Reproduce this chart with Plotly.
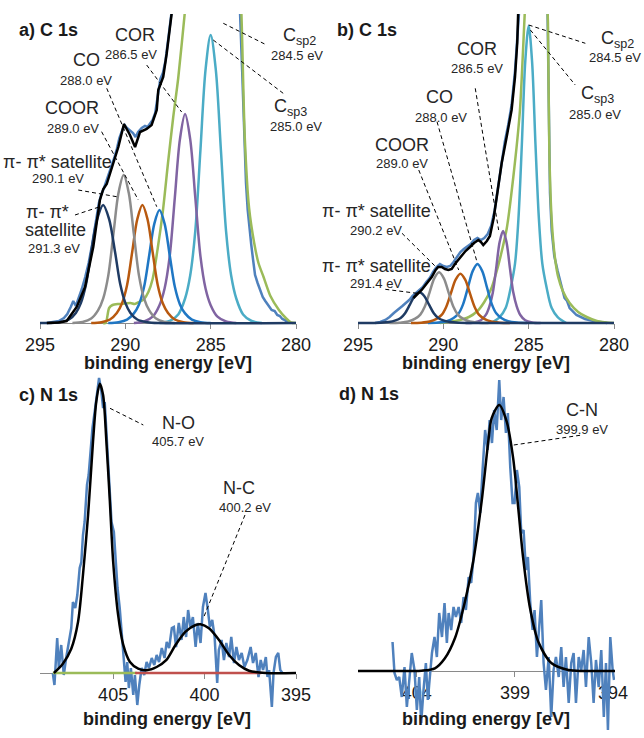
import plotly.graph_objects as go

W, H = 644, 738
FONT = "Liberation Sans, Arial, sans-serif"

# ---------------- Panel a : C 1s ----------------
a_ticks = [295, 290, 285, 280]
a_raw = [(294.6, 0), (294.2, 1), (293.9, 2), (293.6, 5), (293.4, 9), (293.2, 16), (293.05, 22), (292.9, 17),
         (292.75, 24), (292.55, 34), (292.35, 46), (292.15, 60), (291.95, 78), (291.75, 98), (291.55, 120),
         (291.4, 129), (291.25, 135), (291.05, 145), (290.85, 154), (290.65, 165), (290.5, 174), (290.35, 185),
         (290.2, 192), (290.05, 198), (289.9, 195), (289.73, 193), (289.55, 190), (289.4, 186), (289.25, 191),
         (289.04, 195), (288.85, 197), (288.7, 196), (288.55, 199), (288.4, 203), (288.25, 210), (288.1, 226),
         (287.95, 244), (287.8, 250), (287.65, 262), (287.5, 282), (287.35, 305), (287.2, 330), (287.0, 360),
         (286.5, 420), (285.5, 480), (284.5, 470), (283.6, 380), (283.3, 320), (283.15, 250), (283.03, 180),
         (282.93, 140), (282.83, 113), (282.73, 92), (282.62, 78), (282.52, 64), (282.4, 48), (282.25, 40),
         (282.1, 33), (281.95, 26), (281.8, 22), (281.6, 17), (281.43, 13), (281.25, 12), (281.1, 8),
         (280.95, 7), (280.8, 4), (280.65, 3), (280.55, 1), (280.45, 2), (280.35, 0)]
a_fit = [(294.6, 0), (293.9, 0.5), (293.44, 2), (292.85, 16), (292.36, 36), (291.88, 76), (291.49, 123),
         (291.29, 134), (291.09, 139), (290.70, 159), (290.41, 176), (290.08, 199), (289.73, 188), (289.43, 176),
         (289.14, 191), (288.75, 194), (288.46, 198), (288.16, 213), (288.07, 233), (287.78, 246), (287.58, 269),
         (287.29, 309), (287.0, 360)]
a_green = [(291.3, 0), (291.15, 0), (290.95, 15), (290.75, 18), (290.4, 19), (290.0, 19.5), (289.7, 20),
           (289.45, 19), (289.2, 21), (288.9, 24), (288.65, 31), (288.4, 44), (288.1, 75), (287.8, 112),
           (287.5, 160), (287.2, 205), (286.9, 245), (286.5, 313), (286.0, 400), (285.2, 520), (284.5, 560),
           (283.9, 520), (283.5, 430), (283.2, 310), (283.0, 185), (282.75, 115), (282.45, 80), (282.2, 60),
           (281.9, 46), (281.5, 27), (281.0, 13), (280.6, 5), (280.3, 0.5), (280.0, 0)]
a_cyan_x = [288.0, 287.4, 286.9, 286.5, 286.2, 285.9, 285.6, 285.3, 285.0, 284.7, 284.4, 284.1, 283.8, 283.5, 283.1, 282.6, 282.0]
a_cyan_y = [0, 2.0, 8.6, 24.5, 47.5, 92.2, 172.8, 253.4, 288, 253.4, 172.8, 92.2, 47.5, 24.5, 8.6, 2.0, 0]
a_purple_x = [289.5, 288.9, 288.4, 288.0, 287.7, 287.4, 287.1, 286.8, 286.5, 286.2, 285.9, 285.6, 285.3, 285.0, 284.6, 284.1, 283.5]
a_purple_y = [0, 1.5, 6.3, 17.8, 34.5, 66.9, 125.4, 183.9, 209, 183.9, 125.4, 66.9, 34.5, 17.8, 6.3, 1.5, 0]
a_blue_x = [291.0, 290.4, 289.9, 289.5, 289.2, 288.9, 288.6, 288.3, 288.0, 287.7, 287.4, 287.1, 286.8, 286.5, 286.1, 285.6, 285.0]
a_blue_y = [0, 0.8, 3.4, 9.6, 18.6, 36.2, 67.8, 99.4, 113, 99.4, 67.8, 36.2, 18.6, 9.6, 3.4, 0.8, 0]
a_orange_x = [292.0, 291.4, 290.9, 290.5, 290.2, 289.9, 289.6, 289.3, 289.0, 288.7, 288.4, 288.1, 287.8, 287.5, 287.1, 286.6, 286.0]
a_orange_y = [0, 0.8, 3.5, 10.0, 19.5, 37.8, 70.8, 103.8, 118, 103.8, 70.8, 37.8, 19.5, 10.0, 3.5, 0.8, 0]
a_gray_x = [293.1, 292.5, 292.0, 291.6, 291.3, 291.0, 290.7, 290.4, 290.1, 289.8, 289.5, 289.2, 288.9, 288.6, 288.2, 287.7, 287.1]
a_gray_y = [0, 1.0, 4.4, 12.6, 24.4, 47.4, 88.8, 130.2, 148, 130.2, 88.8, 47.4, 24.4, 12.6, 4.4, 1.0, 0]
a_navy_x = [295.0, 294.6, 293.9, 293.3, 292.9, 292.6, 292.3, 292.0, 291.65, 291.3, 290.95, 290.6, 290.3, 290.0, 289.7, 289.3, 288.7, 288.0, 280.0]
a_navy_y = [0, 0, 0.8, 3.5, 10.0, 20.1, 38.9, 70.8, 103.8, 118, 103.8, 70.8, 38.9, 20.1, 10.0, 3.5, 0.8, 0, 0]

# ---------------- Panel b : C 1s ----------------
b_ticks = [295, 290, 285, 280]
b_raw = [(294.0, 0), (293.7, 1), (293.4, 3), (293.15, 6), (292.9, 10), (292.65, 14), (292.4, 17), (292.2, 20),
         (292.0, 23), (291.8, 27), (291.6, 30), (291.4, 33), (291.2, 36), (291.0, 41), (290.8, 45), (290.6, 51),
         (290.4, 56), (290.2, 59), (290.0, 57), (289.8, 56), (289.6, 57), (289.4, 61), (289.2, 66), (289.0, 71),
         (288.8, 74), (288.6, 77), (288.4, 79), (288.2, 83), (288.0, 85), (287.8, 83), (287.6, 85), (287.4, 89),
         (287.2, 97), (287.0, 112), (286.8, 136), (286.6, 161), (286.4, 181), (286.2, 198), (286.0, 218),
         (285.8, 252), (285.65, 292), (285.55, 322), (285.0, 450), (284.5, 500), (284.1, 420), (283.9, 320),
         (283.82, 200), (283.75, 130), (283.65, 92), (283.5, 67), (283.3, 52), (283.1, 38), (282.9, 25),
         (282.75, 22), (282.6, 15), (282.2, 8), (281.7, 4), (281.2, 2), (280.7, 1), (280.4, 0)]
b_fit = [(291.75, 25), (291.5, 29), (291.27, 33), (291.0, 39), (290.68, 46), (290.45, 53), (290.3, 56),
         (290.1, 56), (289.9, 54), (289.7, 53), (289.51, 54), (289.32, 59), (289.1, 64), (288.93, 68),
         (288.7, 72), (288.44, 76), (288.2, 80), (287.95, 83), (287.8, 81), (287.66, 78), (287.45, 82),
         (287.27, 87), (287.05, 105), (286.87, 126), (286.58, 160), (286.29, 186), (286.0, 213), (285.8, 246),
         (285.67, 280), (285.61, 313), (285.5, 360)]
b_green = [(290.2, 0), (289.3, 2), (288.5, 6), (288.0, 12), (287.6, 21), (287.2, 34), (286.87, 52), (286.6, 70),
           (286.29, 94), (285.9, 146), (285.51, 213), (285.22, 313), (284.9, 420), (284.5, 480), (284.15, 420),
           (283.95, 340), (283.87, 300), (283.83, 230), (283.78, 163), (283.7, 120), (283.6, 90), (283.45, 64),
           (283.27, 46), (283.0, 32), (282.6, 20), (282.1, 11), (281.6, 6), (281.0, 2), (280.45, 0.5), (280.0, 0)]
b_cyan_x = [287.2, 286.7, 286.35, 286.05, 285.8, 285.6, 285.4, 285.2, 285.0, 284.8, 284.6, 284.4, 284.2, 283.95, 283.65, 283.3, 282.8]
b_cyan_y = [0, 5.9, 14.9, 35.6, 59.4, 104.0, 178.2, 261.4, 297, 261.4, 178.2, 104.0, 59.4, 35.6, 14.9, 5.9, 0]
b_purple_x = [288.7, 288.2, 287.8, 287.5, 287.3, 287.1, 286.9, 286.7, 286.5, 286.3, 286.1, 285.9, 285.7, 285.5, 285.2, 284.8, 284.3]
b_purple_y = [0, 0.6, 2.8, 8.3, 16.6, 30.4, 55.2, 81.0, 92, 81.0, 55.2, 30.4, 16.6, 8.3, 2.8, 0.6, 0]
b_blue_x = [290.9, 290.3, 289.8, 289.4, 289.1, 288.84, 288.56, 288.28, 288.0, 287.72, 287.44, 287.16, 286.9, 286.6, 286.2, 285.7, 285.1]
b_blue_y = [0, 0.4, 1.8, 5.0, 9.7, 18.9, 35.4, 51.9, 59, 51.9, 35.4, 18.9, 9.7, 5.0, 1.8, 0.4, 0]
b_orange_x = [291.9, 291.3, 290.8, 290.4, 290.1, 289.84, 289.56, 289.28, 289.0, 288.72, 288.44, 288.16, 287.9, 287.6, 287.2, 286.7, 286.1]
b_orange_y = [0, 0.35, 1.5, 4.2, 8.1, 15.8, 29.6, 43.4, 49.3, 43.4, 29.6, 15.8, 8.1, 4.2, 1.5, 0.35, 0]
b_gray_x = [293.15, 292.55, 292.05, 291.65, 291.35, 291.09, 290.81, 290.53, 290.25, 289.97, 289.69, 289.41, 289.15, 288.85, 288.45, 287.95, 287.35]
b_gray_y = [0, 0.35, 1.5, 4.3, 8.4, 16.2, 30.4, 44.6, 50.7, 44.6, 30.4, 16.2, 8.4, 4.3, 1.5, 0.35, 0]
b_navy_x = [295.0, 294.3, 293.7, 293.2, 292.8, 292.5, 292.24, 291.96, 291.68, 291.4, 291.12, 290.84, 290.56, 290.3, 290.0, 289.6, 289.1, 288.5, 280.0]
b_navy_y = [0, 0, 0.2, 0.9, 2.6, 5.1, 9.8, 18.4, 27.0, 30.7, 27.0, 18.4, 9.8, 5.1, 2.6, 0.9, 0.2, 0, 0]

# ---------------- Panel c : N 1s ----------------
c_ticks = [405, 400, 395]
c_raw = [(408.3, 0), (408.21, -12), (408.06, 35), (407.97, 5), (407.84, 28), (407.70, -2), (407.57, 15),
         (407.44, 31), (407.29, 45), (407.20, 71), (407.07, 65), (406.96, 78), (406.83, 105), (406.74, 111),
         (406.65, 138), (406.56, 151), (406.43, 188), (406.34, 198), (406.23, 225), (406.13, 245), (406.01, 261),
         (405.88, 278), (405.77, 295), (405.64, 281), (405.55, 265), (405.46, 271), (405.37, 241), (405.27, 211),
         (405.18, 188), (405.09, 151), (404.96, 141), (404.85, 111), (404.76, 85), (404.64, 65), (404.51, 31),
         (404.40, 11), (404.32, -9), (404.23, 11), (404.14, -15), (404.03, 5), (403.90, -22), (403.81, -2),
         (403.68, -32), (403.57, -12), (403.44, 5), (403.30, -2), (403.17, 11), (403.04, 5), (402.89, 15),
         (402.75, 8), (402.62, 18), (402.49, 11), (402.34, 25), (402.19, 15), (402.07, 31), (401.94, 25),
         (401.79, 45), (401.68, 46), (401.56, 26), (401.41, 50), (401.26, 33), (401.14, 56), (401.01, 36),
         (400.90, 63), (400.77, 46), (400.64, 56), (400.49, 26), (400.37, 50), (400.22, 30), (400.09, 66),
         (399.95, 80), (399.82, 63), (399.71, 46), (399.58, 53), (399.45, 36), (399.31, -10), (399.22, 23),
         (399.07, 33), (398.94, 13), (398.81, 30), (398.66, 16), (398.54, 36), (398.39, 10), (398.26, 26),
         (398.12, 13), (397.97, 20), (397.82, 6), (397.66, 13), (397.48, 26), (397.35, 10), (397.20, 20),
         (397.05, -4), (396.93, 13), (396.80, 3), (396.65, 16), (396.56, -4), (396.47, 3), (396.32, -34),
         (396.23, 0), (396.10, 16), (395.97, 20), (395.86, 3), (395.74, 0)]
c_fit = [(408.24, 0), (407.75, 9.3), (407.29, 24.3), (406.92, 51), (406.65, 98), (406.37, 158), (406.10, 231.7),
         (405.92, 271.7), (405.73, 289.3), (405.55, 278), (405.37, 231.7), (405.18, 171.7), (405.0, 111.7),
         (404.73, 58.3), (404.45, 28.3), (404.08, 11), (403.63, 4.3), (403.17, 2.7), (402.62, 6), (402.1, 12.8),
         (401.59, 28), (401.04, 41.3), (400.49, 48), (400.22, 48.7), (399.76, 44.7), (399.21, 33), (398.66, 18),
         (398.12, 8), (397.57, 2.3), (396.65, 0), (395.0, 0)]
c_bg_green = [(408.3, 0), (403.7, 0)]
c_bg_red = [(403.8, 0), (396.9, 0)]

# ---------------- Panel d : N 1s ----------------
d_ticks = [404, 399, 394]
d_raw = [(405.24, 29), (405.14, -2), (405.02, -9), (404.90, -6), (404.77, -26), (404.63, 4), (404.51, -36),
         (404.39, -9), (404.26, 18), (404.12, 1), (404.0, -39), (403.88, -6), (403.78, -52), (403.66, -19),
         (403.54, 8), (403.44, -29), (403.32, 1), (403.23, 18), (403.10, 34), (402.98, 14), (402.86, 58),
         (402.72, 34), (402.59, 68), (402.47, 28), (402.38, 58), (402.25, 41), (402.13, 64), (402.01, 54),
         (401.87, 64), (401.74, 48), (401.62, 74), (401.50, 61), (401.36, 94), (401.23, 88), (401.11, 114),
         (400.99, 168), (400.89, 178), (400.77, 158), (400.65, 201), (400.52, 241), (400.39, 221), (400.29, 251),
         (400.17, 228), (400.06, 261), (399.93, 241), (399.80, 291), (399.70, 251), (399.58, 274), (399.46, 238),
         (399.36, 258), (399.24, 204), (399.12, 168), (399.02, 168), (398.90, 201), (398.78, 184), (398.68, 138),
         (398.56, 141), (398.44, 101), (398.34, 114), (398.22, 68), (398.10, 41), (398.0, 61), (397.88, 14),
         (397.76, 41), (397.66, 71), (397.54, 8), (397.42, -19), (397.28, 14), (397.15, -46), (397.03, 1),
         (396.91, 14), (396.77, -6), (396.64, 24), (396.52, -16), (396.40, 14), (396.26, -32), (396.13, 8),
         (396.01, 18), (395.89, -32), (395.75, 14), (395.62, 1), (395.50, 21), (395.38, -16), (395.24, 34),
         (395.11, 8), (394.99, -32), (394.87, 11), (394.73, -16), (394.60, 21), (394.47, -46), (394.36, 8),
         (394.26, -59), (394.14, 34), (394.02, 1), (393.95, -9)]
d_fit = [(407.0, 0), (404.3, 0), (403.76, 0.3), (403.08, 2.7), (402.57, 12.7), (402.06, 32.7), (401.55, 69.3),
         (401.13, 109.3), (400.70, 169.3), (400.36, 229.3), (400.19, 252.7), (399.80, 266), (399.42, 249.3),
         (399.09, 212.7), (398.83, 162.7), (398.58, 112.7), (398.23, 62.7), (397.81, 29.3), (397.13, 7.7),
         (396.28, 1), (395.5, 0), (393.9, 0)]

# ---------------- styling ----------------
C_RAW, C_FIT = "#4F81BD", "#000000"
C_NAVY, C_GRAY, C_ORANGE, C_BLUE = "#1F3B63", "#8C8C8C", "#B8590F", "#1F77C4"
C_PURPLE, C_CYAN, C_GREEN, C_RED = "#8064A2", "#4BACC6", "#9BBB59", "#C0504D"
TXT = "#262626"

fig = go.Figure()


def unzip(pairs):
    return [p[0] for p in pairs], [p[1] for p in pairs]


def add(x, y, color, ax, shape="spline", width=2.5, smoothing=0.9):
    line = dict(color=color, width=width, shape=shape)
    if shape == "spline":
        line["smoothing"] = smoothing
    fig.add_trace(go.Scatter(x=x, y=y, mode="lines", line=line, xaxis="x" + ax, yaxis="y" + ax,
                             hoverinfo="skip", showlegend=False))


# panel a
add(*unzip(a_raw), C_RAW, "", shape="linear")
add(*unzip(a_green), C_GREEN, "", smoothing=0.7)
add(a_cyan_x, a_cyan_y, C_CYAN, "")
add(a_purple_x, a_purple_y, C_PURPLE, "")
add(a_blue_x, a_blue_y, C_BLUE, "")
add(a_orange_x, a_orange_y, C_ORANGE, "")
add(a_gray_x, a_gray_y, C_GRAY, "")
add(a_navy_x, a_navy_y, C_NAVY, "")
add(*unzip(a_fit), C_FIT, "", shape="linear")

# panel b
add(*unzip(b_raw), C_RAW, "2", shape="linear")
add(*unzip(b_green), C_GREEN, "2", smoothing=0.6)
add(b_cyan_x, b_cyan_y, C_CYAN, "2")
add(b_purple_x, b_purple_y, C_PURPLE, "2")
add(b_blue_x, b_blue_y, C_BLUE, "2")
add(b_orange_x, b_orange_y, C_ORANGE, "2")
add(b_gray_x, b_gray_y, C_GRAY, "2")
add(b_navy_x, b_navy_y, C_NAVY, "2")
add(*unzip(b_fit), C_FIT, "2", shape="linear")

# panel c
add(*unzip(c_raw), C_RAW, "3", shape="linear")
add(*unzip(c_bg_green), C_GREEN, "3", shape="linear")
add(*unzip(c_bg_red), C_RED, "3", shape="linear")
add(*unzip(c_fit), C_FIT, "3", smoothing=0.8)

# panel d
add(*unzip(d_raw), C_RAW, "4", shape="linear")
add(*unzip(d_fit), C_FIT, "4", smoothing=0.8)


def xax(px0, px1, rng, base_py, ticks):
    return dict(domain=[px0 / W, px1 / W], range=rng, autorange=False, anchor="free",
                position=1 - base_py / H, automargin=False,
                tickmode="array", tickvals=ticks, ticktext=[str(t) for t in ticks],
                showline=True, linecolor="#8a8a8a", linewidth=1, ticks="outside", ticklen=5,
                tickcolor="#8a8a8a", tickwidth=1, showgrid=False, zeroline=False, layer="below traces",
                tickfont=dict(family=FONT, size=18, color="#1a1a1a"), fixedrange=True)


def yax(top_py, bot_py, rng, anchor):
    return dict(domain=[1 - bot_py / H, 1 - top_py / H], range=rng, autorange=False, visible=False,
                anchor=anchor, automargin=False, fixedrange=True, showgrid=False, zeroline=False)


fig.update_layout(
    template="none",
    width=W, height=H, margin=dict(l=0, r=0, t=0, b=0, pad=0, autoexpand=False),
    paper_bgcolor="white", plot_bgcolor="rgba(0,0,0,0)", showlegend=False,
    xaxis=xax(40, 296, [295, 280], 323, a_ticks), yaxis=yax(14, 325, [-2, 309], "x"),
    xaxis2=xax(358, 614, [295, 280], 323, b_ticks), yaxis2=yax(14, 325, [-2, 309], "x2"),
    xaxis3=xax(40, 296, [409, 395], 673, c_ticks), yaxis3=yax(375, 713, [-40, 298], "x3"),
    xaxis4=xax(358, 615, [407, 393.9], 671, d_ticks), yaxis4=yax(375, 738, [-67, 296], "x4"),
)

ann = []


def txt(text, x, y, ax, size=18, xanchor="center"):
    ann.append(dict(text=text, x=x, y=y, xref="x" + ax, yref="y" + ax, showarrow=False,
                    xanchor=xanchor, yanchor="middle", font=dict(family=FONT, size=size, color=TXT)))


def ptxt(text, px, py, size=18, xanchor="center", color="#1a1a1a"):
    ann.append(dict(text=text, x=px / W, y=1 - py / H, xref="paper", yref="paper", showarrow=False,
                    xanchor=xanchor, yanchor="middle", font=dict(family=FONT, size=size, color=color)))


# panel a labels
txt("COR", 289.43, 288, "")
txt("286.5 eV", 289.67, 268, "", 13)
txt("CO", 292.30, 263, "")
txt("288.0 eV", 292.28, 243, "", 13)
txt("COOR", 293.10, 215, "")
txt("289.0 eV", 293.07, 195, "", 13)
txt("π- π* satellite", 293.97, 161, "")
txt("290.1 eV", 293.95, 145, "", 13)
txt("π- π*", 294.59, 111, "")
txt("satellite", 294.12, 93, "")
txt("291.3 eV", 294.18, 75, "", 13)
txt("C<sub>sp2</sub>", 280.88, 286, "", 18, "left")
ptxt("284.5 eV", 297, 56, 13, color=TXT)
txt("C<sub>sp3</sub>", 281.41, 216, "", 18, "left")
ptxt("285.0 eV", 296, 126, 13, color=TXT)

# panel b labels
txt("COR", 288.03, 274, "2")
txt("286.5 eV", 288.03, 255, "2", 13)
txt("CO", 290.20, 226, "2")
txt("288.0 eV", 290.14, 206, "2", 13)
txt("COOR", 292.42, 178, "2")
txt("289.0 eV", 292.42, 160, "2", 13)
txt("π- π* satellite", 293.89, 112, "2")
txt("290.2 eV", 293.95, 93, "2", 13)
txt("π- π* satellite", 293.89, 57, "2")
txt("291.4 eV", 293.95, 40, "2", 13)
txt("C<sub>sp2</sub>", 280.88, 283, "2", 18, "left")
ptxt("284.5 eV", 615, 57, 13, color=TXT)
txt("C<sub>sp3</sub>", 282.05, 229, "2", 18, "left")
txt("285.0 eV", 281.11, 209, "2", 13)

# panel c labels
txt("N-O", 401.45, 250, "3")
txt("405.7 eV", 401.43, 232, "3", 13)
txt("N-C", 398.12, 185, "3")
txt("400.2 eV", 397.79, 166, "3", 13)

# panel d labels
txt("C-N", 395.58, 261, "4")
txt("399.9 eV", 395.58, 242, "4", 13)

# panel titles and axis titles
ptxt("<b>a) C 1s</b>", 17, 30, 18, "left")
ptxt("<b>b) C 1s</b>", 335, 30, 18, "left")
ptxt("<b>c) N 1s</b>", 17, 395, 18, "left")
ptxt("<b>d) N 1s</b>", 337, 394, 18, "left")
for cx, cy in [(168, 363), (486, 363), (167, 719), (486, 719)]:
    ptxt("<b>binding energy [eV]</b>", cx, cy, 18)

# dashed leader lines (label -> peak)
leaders = [
    ("", 288.75, 258, 286.70, 211), ("", 291.09, 234.7, 288.16, 116.3), ("", 291.39, 191.3, 289.24, 123),
    ("", 292.76, 133, 290.51, 126.3), ("", 292.95, 108, 291.49, 116.3), ("", 284.26, 299.7, 281.72, 278),
    ("", 284.85, 283, 280.75, 229.7),
    ("2", 288.13, 234.7, 286.76, 93), ("2", 290.37, 201.3, 288.03, 61.3), ("2", 291.44, 153, 289.1, 53),
    ("2", 292.42, 89.7, 290.37, 55), ("2", 293.4, 33.7, 291.54, 29.7), ("2", 285.0, 298, 281.68, 279.7),
    ("2", 284.9, 293, 282.27, 238),
    ("3", 405.17, 264.7, 403.35, 248), ("3", 397.79, 158, 400.07, 54.7),
    ("4", 399.06, 226, 395.58, 236),
]
shapes = []
for ax, x0, y0, x1, y1 in leaders:
    shapes.append(dict(type="line", xref="x" + ax, yref="y" + ax, x0=x0, y0=y0, x1=x1, y1=y1,
                       line=dict(color="black", width=1, dash="4px,3px")))

fig.update_layout(annotations=ann, shapes=shapes)
fig.write_html("out.html", config={"displayModeBar": False, "staticPlot": True},
               post_script="document.body.style.margin='0px';document.body.style.padding='0px';")
